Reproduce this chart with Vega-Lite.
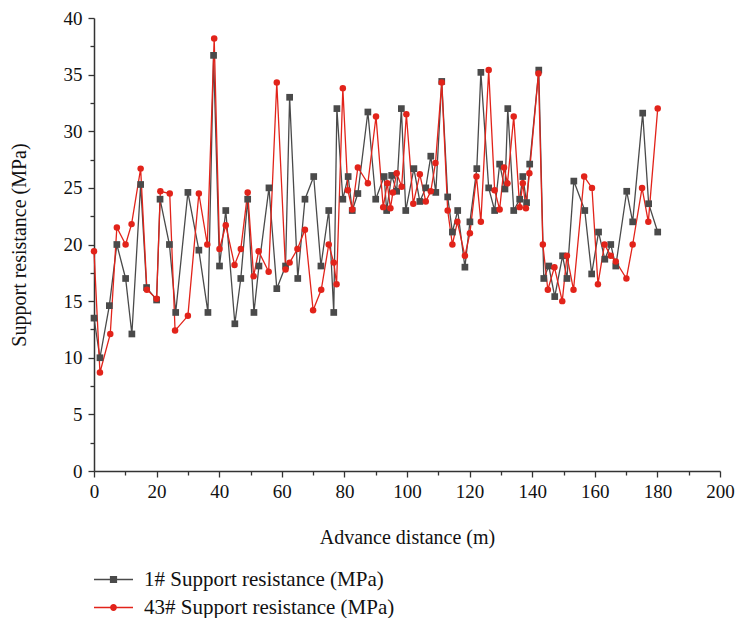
{
  "$schema": "https://vega.github.io/schema/vega-lite/v6.json",
  "autosize": {"type": "none"},
  "padding": {"left": 94, "top": 18, "right": 18, "bottom": 147},
  "width": 626,
  "height": 453,
  "background": "white",
  "config": {
    "view": {"stroke": null},
    "font": "Liberation Serif",
    "axis": {"grid": false, "domainColor": "#333333", "domainWidth": 1.5, "tickColor": "#333333", "tickWidth": 1.3, "labelFont": "Liberation Serif", "titleFont": "Liberation Serif", "labelFontSize": 19, "titleFontSize": 20, "labelColor": "#111111", "titleColor": "#111111", "titleFontWeight": "normal"}
  },
  "datasets": {
    "pts": [
      {"s": "1# Support resistance (MPa)", "x": 0, "y": 13.5},
      {"s": "1# Support resistance (MPa)", "x": 1.9, "y": 10.0},
      {"s": "1# Support resistance (MPa)", "x": 4.9, "y": 14.6},
      {"s": "1# Support resistance (MPa)", "x": 7.3, "y": 20.0},
      {"s": "1# Support resistance (MPa)", "x": 10.1, "y": 17.0},
      {"s": "1# Support resistance (MPa)", "x": 12.1, "y": 12.1},
      {"s": "1# Support resistance (MPa)", "x": 14.9, "y": 25.3},
      {"s": "1# Support resistance (MPa)", "x": 16.8, "y": 16.2},
      {"s": "1# Support resistance (MPa)", "x": 20.0, "y": 15.1},
      {"s": "1# Support resistance (MPa)", "x": 21.1, "y": 24.0},
      {"s": "1# Support resistance (MPa)", "x": 24.1, "y": 20.0},
      {"s": "1# Support resistance (MPa)", "x": 26.1, "y": 14.0},
      {"s": "1# Support resistance (MPa)", "x": 30.0, "y": 24.6},
      {"s": "1# Support resistance (MPa)", "x": 33.5, "y": 19.5},
      {"s": "1# Support resistance (MPa)", "x": 36.4, "y": 14.0},
      {"s": "1# Support resistance (MPa)", "x": 38.2, "y": 36.7},
      {"s": "1# Support resistance (MPa)", "x": 40.1, "y": 18.1},
      {"s": "1# Support resistance (MPa)", "x": 42.1, "y": 23.0},
      {"s": "1# Support resistance (MPa)", "x": 45.0, "y": 13.0},
      {"s": "1# Support resistance (MPa)", "x": 46.9, "y": 17.0},
      {"s": "1# Support resistance (MPa)", "x": 49.1, "y": 24.0},
      {"s": "1# Support resistance (MPa)", "x": 51.1, "y": 14.0},
      {"s": "1# Support resistance (MPa)", "x": 52.7, "y": 18.1},
      {"s": "1# Support resistance (MPa)", "x": 55.9, "y": 25.0},
      {"s": "1# Support resistance (MPa)", "x": 58.4, "y": 16.1},
      {"s": "1# Support resistance (MPa)", "x": 61.2, "y": 18.1},
      {"s": "1# Support resistance (MPa)", "x": 62.5, "y": 33.0},
      {"s": "1# Support resistance (MPa)", "x": 65.1, "y": 17.0},
      {"s": "1# Support resistance (MPa)", "x": 67.4, "y": 24.0},
      {"s": "1# Support resistance (MPa)", "x": 70.2, "y": 26.0},
      {"s": "1# Support resistance (MPa)", "x": 72.5, "y": 18.1},
      {"s": "1# Support resistance (MPa)", "x": 75.0, "y": 23.0},
      {"s": "1# Support resistance (MPa)", "x": 76.6, "y": 14.0},
      {"s": "1# Support resistance (MPa)", "x": 77.6, "y": 32.0},
      {"s": "1# Support resistance (MPa)", "x": 79.5, "y": 24.0},
      {"s": "1# Support resistance (MPa)", "x": 81.2, "y": 26.0},
      {"s": "1# Support resistance (MPa)", "x": 82.5, "y": 23.0},
      {"s": "1# Support resistance (MPa)", "x": 84.3, "y": 24.5},
      {"s": "1# Support resistance (MPa)", "x": 87.5, "y": 31.7},
      {"s": "1# Support resistance (MPa)", "x": 90.0, "y": 24.0},
      {"s": "1# Support resistance (MPa)", "x": 92.7, "y": 26.0},
      {"s": "1# Support resistance (MPa)", "x": 93.5, "y": 23.0},
      {"s": "1# Support resistance (MPa)", "x": 95.1, "y": 26.1},
      {"s": "1# Support resistance (MPa)", "x": 96.7, "y": 24.7},
      {"s": "1# Support resistance (MPa)", "x": 98.2, "y": 32.0},
      {"s": "1# Support resistance (MPa)", "x": 99.6, "y": 23.0},
      {"s": "1# Support resistance (MPa)", "x": 102.2, "y": 26.7},
      {"s": "1# Support resistance (MPa)", "x": 104.1, "y": 23.8},
      {"s": "1# Support resistance (MPa)", "x": 106.0, "y": 25.0},
      {"s": "1# Support resistance (MPa)", "x": 107.6, "y": 27.8},
      {"s": "1# Support resistance (MPa)", "x": 109.2, "y": 24.6},
      {"s": "1# Support resistance (MPa)", "x": 111.1, "y": 34.4},
      {"s": "1# Support resistance (MPa)", "x": 113.0, "y": 24.2},
      {"s": "1# Support resistance (MPa)", "x": 114.5, "y": 21.1},
      {"s": "1# Support resistance (MPa)", "x": 116.2, "y": 23.0},
      {"s": "1# Support resistance (MPa)", "x": 118.5, "y": 18.0},
      {"s": "1# Support resistance (MPa)", "x": 120.1, "y": 22.0},
      {"s": "1# Support resistance (MPa)", "x": 122.3, "y": 26.7},
      {"s": "1# Support resistance (MPa)", "x": 123.6, "y": 35.2},
      {"s": "1# Support resistance (MPa)", "x": 126.1, "y": 25.0},
      {"s": "1# Support resistance (MPa)", "x": 128.0, "y": 23.0},
      {"s": "1# Support resistance (MPa)", "x": 129.6, "y": 27.1},
      {"s": "1# Support resistance (MPa)", "x": 131.3, "y": 24.9},
      {"s": "1# Support resistance (MPa)", "x": 132.2, "y": 32.0},
      {"s": "1# Support resistance (MPa)", "x": 134.1, "y": 23.0},
      {"s": "1# Support resistance (MPa)", "x": 136.0, "y": 24.0},
      {"s": "1# Support resistance (MPa)", "x": 137.0, "y": 26.0},
      {"s": "1# Support resistance (MPa)", "x": 138.2, "y": 23.7},
      {"s": "1# Support resistance (MPa)", "x": 139.2, "y": 27.1},
      {"s": "1# Support resistance (MPa)", "x": 142.1, "y": 35.4},
      {"s": "1# Support resistance (MPa)", "x": 143.7, "y": 17.0},
      {"s": "1# Support resistance (MPa)", "x": 145.3, "y": 18.1},
      {"s": "1# Support resistance (MPa)", "x": 147.2, "y": 15.4},
      {"s": "1# Support resistance (MPa)", "x": 149.7, "y": 19.0},
      {"s": "1# Support resistance (MPa)", "x": 151.1, "y": 17.0},
      {"s": "1# Support resistance (MPa)", "x": 153.3, "y": 25.6},
      {"s": "1# Support resistance (MPa)", "x": 156.8, "y": 23.0},
      {"s": "1# Support resistance (MPa)", "x": 159.0, "y": 17.4},
      {"s": "1# Support resistance (MPa)", "x": 161.2, "y": 21.1},
      {"s": "1# Support resistance (MPa)", "x": 163.2, "y": 18.7},
      {"s": "1# Support resistance (MPa)", "x": 165.1, "y": 20.0},
      {"s": "1# Support resistance (MPa)", "x": 166.7, "y": 18.1},
      {"s": "1# Support resistance (MPa)", "x": 170.2, "y": 24.7},
      {"s": "1# Support resistance (MPa)", "x": 172.1, "y": 22.0},
      {"s": "1# Support resistance (MPa)", "x": 175.3, "y": 31.6},
      {"s": "1# Support resistance (MPa)", "x": 177.2, "y": 23.6},
      {"s": "1# Support resistance (MPa)", "x": 180.1, "y": 21.1},
      {"s": "43# Support resistance (MPa)", "x": 0, "y": 19.4},
      {"s": "43# Support resistance (MPa)", "x": 1.9, "y": 8.7},
      {"s": "43# Support resistance (MPa)", "x": 5.2, "y": 12.1},
      {"s": "43# Support resistance (MPa)", "x": 7.3, "y": 21.5},
      {"s": "43# Support resistance (MPa)", "x": 10.1, "y": 20.0},
      {"s": "43# Support resistance (MPa)", "x": 12.0, "y": 21.8},
      {"s": "43# Support resistance (MPa)", "x": 14.9, "y": 26.7},
      {"s": "43# Support resistance (MPa)", "x": 16.9, "y": 16.0},
      {"s": "43# Support resistance (MPa)", "x": 20.0, "y": 15.2},
      {"s": "43# Support resistance (MPa)", "x": 21.2, "y": 24.7},
      {"s": "43# Support resistance (MPa)", "x": 24.2, "y": 24.5},
      {"s": "43# Support resistance (MPa)", "x": 25.9, "y": 12.4},
      {"s": "43# Support resistance (MPa)", "x": 30.0, "y": 13.7},
      {"s": "43# Support resistance (MPa)", "x": 33.5, "y": 24.5},
      {"s": "43# Support resistance (MPa)", "x": 36.2, "y": 20.0},
      {"s": "43# Support resistance (MPa)", "x": 38.4, "y": 38.2},
      {"s": "43# Support resistance (MPa)", "x": 40.1, "y": 19.6},
      {"s": "43# Support resistance (MPa)", "x": 42.1, "y": 21.7},
      {"s": "43# Support resistance (MPa)", "x": 44.9, "y": 18.2},
      {"s": "43# Support resistance (MPa)", "x": 46.9, "y": 19.6},
      {"s": "43# Support resistance (MPa)", "x": 49.1, "y": 24.6},
      {"s": "43# Support resistance (MPa)", "x": 51.0, "y": 17.2},
      {"s": "43# Support resistance (MPa)", "x": 52.6, "y": 19.4},
      {"s": "43# Support resistance (MPa)", "x": 55.8, "y": 17.6},
      {"s": "43# Support resistance (MPa)", "x": 58.4, "y": 34.3},
      {"s": "43# Support resistance (MPa)", "x": 61.2, "y": 17.8},
      {"s": "43# Support resistance (MPa)", "x": 62.5, "y": 18.4},
      {"s": "43# Support resistance (MPa)", "x": 65.0, "y": 19.6},
      {"s": "43# Support resistance (MPa)", "x": 67.4, "y": 21.3},
      {"s": "43# Support resistance (MPa)", "x": 70.0, "y": 14.2},
      {"s": "43# Support resistance (MPa)", "x": 72.6, "y": 16.0},
      {"s": "43# Support resistance (MPa)", "x": 75.0, "y": 20.0},
      {"s": "43# Support resistance (MPa)", "x": 76.6, "y": 18.4},
      {"s": "43# Support resistance (MPa)", "x": 77.5, "y": 16.5},
      {"s": "43# Support resistance (MPa)", "x": 79.5, "y": 33.8},
      {"s": "43# Support resistance (MPa)", "x": 81.1, "y": 24.8},
      {"s": "43# Support resistance (MPa)", "x": 82.5, "y": 23.1},
      {"s": "43# Support resistance (MPa)", "x": 84.3, "y": 26.8},
      {"s": "43# Support resistance (MPa)", "x": 87.5, "y": 25.4},
      {"s": "43# Support resistance (MPa)", "x": 90.1, "y": 31.3},
      {"s": "43# Support resistance (MPa)", "x": 92.4, "y": 23.3},
      {"s": "43# Support resistance (MPa)", "x": 93.7, "y": 25.4},
      {"s": "43# Support resistance (MPa)", "x": 94.7, "y": 23.2},
      {"s": "43# Support resistance (MPa)", "x": 95.5, "y": 24.6},
      {"s": "43# Support resistance (MPa)", "x": 96.7, "y": 26.3},
      {"s": "43# Support resistance (MPa)", "x": 98.3, "y": 25.1},
      {"s": "43# Support resistance (MPa)", "x": 99.8, "y": 31.5},
      {"s": "43# Support resistance (MPa)", "x": 102.0, "y": 23.6},
      {"s": "43# Support resistance (MPa)", "x": 104.1, "y": 26.2},
      {"s": "43# Support resistance (MPa)", "x": 106.0, "y": 23.8},
      {"s": "43# Support resistance (MPa)", "x": 107.6, "y": 24.7},
      {"s": "43# Support resistance (MPa)", "x": 109.1, "y": 27.2},
      {"s": "43# Support resistance (MPa)", "x": 111.1, "y": 34.3},
      {"s": "43# Support resistance (MPa)", "x": 113.0, "y": 23.0},
      {"s": "43# Support resistance (MPa)", "x": 114.5, "y": 20.0},
      {"s": "43# Support resistance (MPa)", "x": 116.1, "y": 22.0},
      {"s": "43# Support resistance (MPa)", "x": 118.5, "y": 19.0},
      {"s": "43# Support resistance (MPa)", "x": 120.1, "y": 21.0},
      {"s": "43# Support resistance (MPa)", "x": 122.2, "y": 26.0},
      {"s": "43# Support resistance (MPa)", "x": 123.6, "y": 22.0},
      {"s": "43# Support resistance (MPa)", "x": 126.1, "y": 35.4},
      {"s": "43# Support resistance (MPa)", "x": 128.0, "y": 24.8},
      {"s": "43# Support resistance (MPa)", "x": 129.6, "y": 23.1},
      {"s": "43# Support resistance (MPa)", "x": 131.0, "y": 26.8},
      {"s": "43# Support resistance (MPa)", "x": 132.1, "y": 25.4},
      {"s": "43# Support resistance (MPa)", "x": 134.1, "y": 31.3},
      {"s": "43# Support resistance (MPa)", "x": 136.0, "y": 23.3},
      {"s": "43# Support resistance (MPa)", "x": 137.0, "y": 25.4},
      {"s": "43# Support resistance (MPa)", "x": 138.0, "y": 23.2},
      {"s": "43# Support resistance (MPa)", "x": 139.1, "y": 26.3},
      {"s": "43# Support resistance (MPa)", "x": 142.0, "y": 35.1},
      {"s": "43# Support resistance (MPa)", "x": 143.4, "y": 20.0},
      {"s": "43# Support resistance (MPa)", "x": 145.0, "y": 16.0},
      {"s": "43# Support resistance (MPa)", "x": 147.1, "y": 18.0},
      {"s": "43# Support resistance (MPa)", "x": 149.6, "y": 15.0},
      {"s": "43# Support resistance (MPa)", "x": 151.1, "y": 19.0},
      {"s": "43# Support resistance (MPa)", "x": 153.2, "y": 16.0},
      {"s": "43# Support resistance (MPa)", "x": 156.6, "y": 26.0},
      {"s": "43# Support resistance (MPa)", "x": 159.1, "y": 25.0},
      {"s": "43# Support resistance (MPa)", "x": 161.0, "y": 16.5},
      {"s": "43# Support resistance (MPa)", "x": 163.1, "y": 20.0},
      {"s": "43# Support resistance (MPa)", "x": 165.1, "y": 19.0},
      {"s": "43# Support resistance (MPa)", "x": 166.7, "y": 18.5},
      {"s": "43# Support resistance (MPa)", "x": 170.1, "y": 17.0},
      {"s": "43# Support resistance (MPa)", "x": 172.1, "y": 20.0},
      {"s": "43# Support resistance (MPa)", "x": 175.1, "y": 25.0},
      {"s": "43# Support resistance (MPa)", "x": 177.1, "y": 22.0},
      {"s": "43# Support resistance (MPa)", "x": 180.1, "y": 32.0}
    ]
  },
  "data": {"name": "pts"},
  "encoding": {
    "x": {
      "field": "x", "type": "quantitative",
      "scale": {"domain": [0, 200], "nice": false, "zero": false},
      "axis": {
        "title": "Advance distance (m)",
        "values": [0,10,20,30,40,50,60,70,80,90,100,110,120,130,140,150,160,170,180,190,200],
        "labelExpr": "datum.value % 20 === 0 ? datum.label : ''",
        "tickSize": {"condition": {"test": "datum.value % 20 === 0", "value": 6}, "value": 4},
        "labelPadding": 5,
        "titlePadding": 26,
        "labelFlush": false
      }
    },
    "y": {
      "field": "y", "type": "quantitative",
      "scale": {"domain": [0, 40], "nice": false},
      "axis": {
        "title": "Support resistance (MPa)",
        "values": [0,2.5,5,7.5,10,12.5,15,17.5,20,22.5,25,27.5,30,32.5,35,37.5,40],
        "labelExpr": "datum.value % 5 === 0 ? datum.label : ''",
        "tickSize": {"condition": {"test": "datum.value % 5 === 0", "value": 6}, "value": 4},
        "labelPadding": 6,
        "titlePadding": 34,
        "labelFlush": false
      }
    },
    "color": {
      "field": "s", "type": "nominal",
      "scale": {"domain": ["1# Support resistance (MPa)", "43# Support resistance (MPa)"], "range": ["#4a4a4a", "#e2231a"]},
      "legend": {
        "title": null,
        "orient": "none",
        "legendX": 9,
        "legendY": 551,
        "direction": "vertical",
        "labelFont": "Liberation Serif",
        "labelFontSize": 21,
        "labelColor": "#111111",
        "labelOffset": 20,
        "labelLimit": 0,
        "rowPadding": 6,
        "padding": 0,
        "symbolSize": 400,
        "encode": {
          "symbols": {
            "update": {
              "shape": {"signal": "datum.value === '1# Support resistance (MPa)' ? 'M-1.95,-0.065H1.95V0.065H-1.95Z M-0.36,-0.36H0.36V0.36H-0.36Z' : 'M-1.95,-0.065H1.95V0.065H-1.95Z M-0.34,0A0.34,0.34 0 1,1 0.34,0A0.34,0.34 0 1,1 -0.34,0Z'"},
              "fill": {"scale": "color", "field": "value"},
              "stroke": {"value": "transparent"},
              "strokeWidth": {"value": 0},
              "opacity": {"value": 1},
              "size": {"value": 400}
            }
          }
        }
      }
    }
  },
  "layer": [
    {"mark": {"type": "line", "strokeWidth": 1.3}},
    {
      "transform": [{"filter": "datum.s === '1# Support resistance (MPa)'"}],
      "mark": {"type": "point", "filled": true, "opacity": 1, "shape": "square", "size": 45}
    },
    {
      "transform": [{"filter": "datum.s === '43# Support resistance (MPa)'"}],
      "mark": {"type": "point", "filled": true, "opacity": 1, "shape": "circle", "size": 42}
    }
  ]
}
